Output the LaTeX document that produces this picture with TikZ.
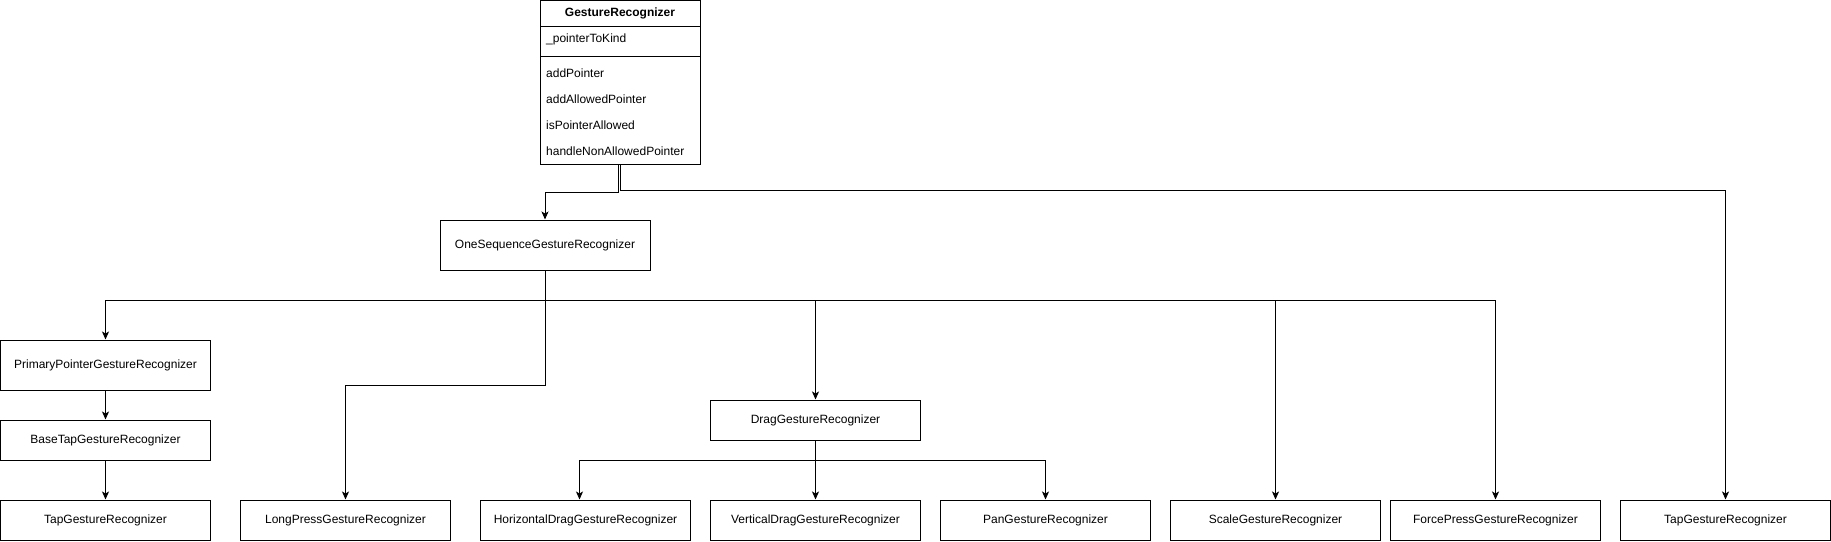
\documentclass[tikz,border=0pt]{standalone}
\usepackage{fontspec}
\setmainfont{Liberation Sans}
\usetikzlibrary{arrows.meta}
\begin{document}
\begin{tikzpicture}[x=1pt,y=-1pt,
  every node/.style={font=\fontsize{12}{14}\selectfont},
  cbox/.style={draw=black,line width=1pt,fill=white,inner sep=0pt,minimum width=210pt,minimum height=40pt},
  tallbox/.style={cbox,minimum height=50pt},
  member/.style={anchor=west,inner sep=0pt},
  arr/.style={draw=black,line width=1pt,-{Stealth[length=8pt,width=7pt,inset=2pt]}},
  plain/.style={draw=black,line width=1pt}]
\useasboundingbox (0,0) rectangle (1831,541);

% class box
\node[draw=black,line width=1pt,inner sep=0pt,minimum width=160pt,minimum height=163.5pt] (GR) at (620,82.25) {};
\node[font=\fontsize{12}{14}\selectfont\bfseries] (GRt) at (620,13) {GestureRecognizer};
\draw[plain] (540,26) -- (700,26);
\draw[plain] (540,56) -- (700,56);
\node[member] (m0) at (546,39) {\_pointerToKind};
\node[member] (m1) at (546,73) {addPointer};
\node[member] (m2) at (546,99) {addAllowedPointer};
\node[member] (m3) at (546,125) {isPointerAllowed};
\node[member] (m4) at (546,151) {handleNonAllowedPointer};

% nodes
\node[tallbox] (OS) at (545,245) {OneSequenceGestureRecognizer};
\node[tallbox] (PP) at (105.5,365) {PrimaryPointerGestureRecognizer};
\node[cbox] (BT) at (105.5,440) {BaseTapGestureRecognizer};
\node[cbox] (T1) at (105.5,520) {TapGestureRecognizer};
\node[cbox] (LP) at (345.5,520) {LongPressGestureRecognizer};
\node[cbox] (DG) at (815.5,420) {DragGestureRecognizer};
\node[cbox] (HD) at (585.5,520) {HorizontalDragGestureRecognizer};
\node[cbox] (VD) at (815.5,520) {VerticalDragGestureRecognizer};
\node[cbox] (PG) at (1045.5,520) {PanGestureRecognizer};
\node[cbox] (SG) at (1275.5,520) {ScaleGestureRecognizer};
\node[cbox] (FP) at (1495.5,520) {ForcePressGestureRecognizer};
\node[cbox] (T2) at (1725.5,520) {TapGestureRecognizer};

% connectors
\draw[arr] ([xshift=-2pt]GR.south) -- ++(0,28) -| (OS.north);
\draw[arr] (GR.south) -- ++(0,26) -| (T2.north);
\draw[arr] (OS.south) -- ++(0,30) -| (PP.north);
\draw[arr] (OS.south) -- ++(0,30) -| (DG.north);
\draw[arr] (OS.south) -- ++(0,30) -| (SG.north);
\draw[arr] (OS.south) -- ++(0,30) -| (FP.north);
\draw[arr] (OS.south) -- ++(0,115) -| (LP.north);
\draw[arr] (PP.south) -- (BT.north);
\draw[arr] (BT.south) -- (T1.north);
\draw[arr] (DG.south) -- ++(0,20) -| ([xshift=-6pt]HD.north);
\draw[arr] (DG.south) -- (VD.north);
\draw[arr] (DG.south) -- ++(0,20) -| (PG.north);
\end{tikzpicture}
\end{document}
